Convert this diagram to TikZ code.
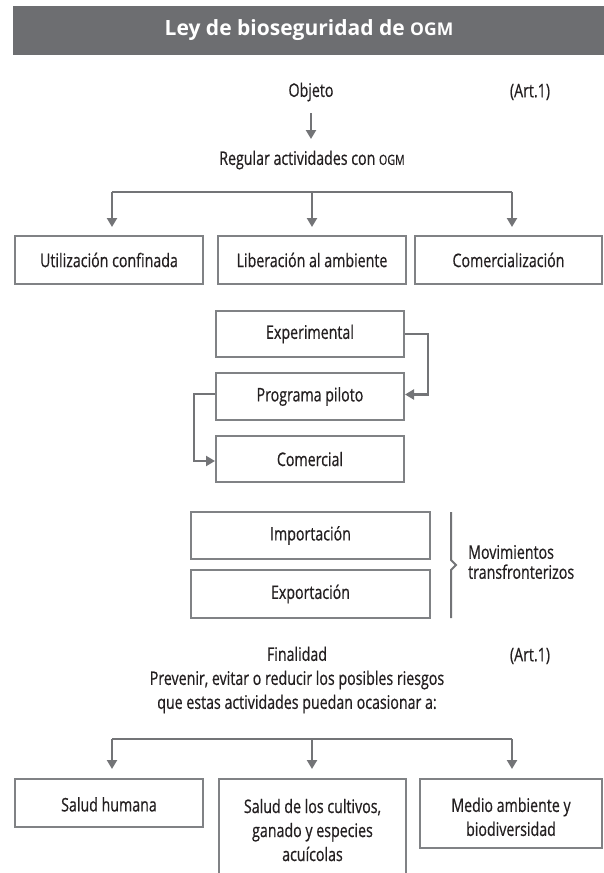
\documentclass[tikz,border=0pt]{standalone}
\usepackage{fontspec}
\setmainfont{Open Sans}[FakeStretch=0.76, FakeBold=0.6]
\newfontfamily\titlefont{Open Sans}[FakeStretch=1.0]
\usetikzlibrary{arrows.meta}
\definecolor{hdr}{HTML}{6D6E71}
\definecolor{ln}{HTML}{737477}
\definecolor{bx}{HTML}{808285}
\definecolor{txt}{HTML}{231F20}
\newcommand{\ogmsc}{{\fontsize{14}{16}\selectfont OGM}}
\newcommand{\ogmtitle}{{\fontsize{17.5}{19}\selectfont OGM}}
\begin{document}
\begin{tikzpicture}[x=1pt,y=-1pt,
  every node/.style={text=txt, font=\fontsize{18.7}{24}\selectfont, inner sep=0pt},
  box/.style={draw=bx, line width=2pt, align=center},
  conn/.style={draw=ln, line width=2.3pt},
  arr/.style={conn, -{Triangle[width=10pt,length=9pt]}},
  lbl/.style={align=center}]
\useasboundingbox (0,0) rectangle (604,873);
% header
\fill[hdr] (13,6) rectangle (604,55);
\node[anchor=base, text=white, font=\titlefont\bfseries\fontsize{21}{24}\selectfont] (title) at (309,35) {Ley de bioseguridad de \ogmtitle};
% objeto
\node (objeto) at (311,92) {Objeto};
\node (art1) at (530,92) {(Art.1)};
\node (regular) at (312,160) {Regular actividades con \ogmsc};
\coordinate (oa) at (311,113);
\coordinate (ob) at (311,139);
\draw[arr] (oa) -- (ob);
% top row
\node[box, minimum width=188pt, minimum height=48pt] (uc) at (109,260) {Utilización confinada};
\node[box, minimum width=188pt, minimum height=48pt] (la) at (312,260) {Liberación al ambiente};
\node[box, minimum width=187pt, minimum height=48pt] (co) at (508.5,260) {Comercialización};
\coordinate (h1) at (112,192);
\coordinate (h2) at (312,192);
\coordinate (h3) at (512,192);
\draw[conn] (h1) -- (h3);
\draw[arr] (h1) -- (112,227);
\draw[arr] (h2) -- (312,227);
\draw[arr] (h3) -- (512,227);
% stages
\node[box, minimum width=188pt, minimum height=46pt] (exp) at (310,334) {Experimental};
\node[box, minimum width=188pt, minimum height=47pt] (pil) at (310,396.5) {Programa piloto};
\node[box, minimum width=188pt, minimum height=46pt] (com) at (310,459) {Comercial};
\draw[arr] (exp.east) -- ++(23,0) |- ([yshift=2pt]pil.east);
\draw[arr] ([yshift=2.5pt]pil.west) -- ++(-21,0) |- ([yshift=-2pt]com.west);
% import/export
\node[box, minimum width=239pt, minimum height=47pt] (imp) at (310.5,535.5) {Importación};
\node[box, minimum width=239pt, minimum height=48pt] (expo) at (310.5,594) {Exportación};
\draw[conn, line width=2pt] (451,512) -- (451,560) -- (456,565) -- (451,570) -- (451,618);
\node[align=left, anchor=west, font=\fontsize{18.7}{20}\selectfont] (mov) at (468,562) {Movimientos\\transfronterizos};
% finalidad
\node[lbl] (fin) at (297,680) {Finalidad\\Prevenir, evitar o reducir los posibles riesgos\\que estas actividades puedan ocasionar a:};
\node (art2) at (530,656) {(Art.1)};
\coordinate (g1) at (112,739);
\coordinate (g2) at (312,739);
\coordinate (g3) at (512,739);
\draw[conn] (g1) -- (g3);
\draw[arr] (g1) -- (112,769);
\draw[arr] (g2) -- (312,769);
\draw[arr] (g3) -- (512,769);
% bottom row
\node[box, minimum width=188pt, minimum height=48pt] (sh) at (109,803) {\rule{0pt}{17pt}Salud humana};
\node[lbl] (sc) at (312.5,830) {Salud de los cultivos,\\ganado y especies\\acuícolas};
\draw[draw=bx, line width=2pt] (219,890) -- (219,779) -- (406,779) -- (406,890);
\node[box, minimum width=182pt, minimum height=69pt] (ma) at (511,813.5) {\rule{0pt}{21pt}Medio ambiente y\\biodiversidad};
\end{tikzpicture}
\end{document}
